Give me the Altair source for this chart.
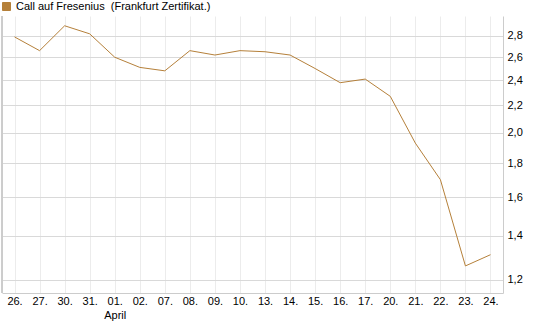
import altair as alt
import pandas as pd

dates = ["26.", "27.", "30.", "31.", "01.", "02.", "07.", "08.", "09.", "10.",
         "13.", "14.", "15.", "16.", "17.", "20.", "21.", "22.", "23.", "24."]
values = [2.79, 2.66, 2.90, 2.82, 2.60, 2.51, 2.48, 2.66, 2.62, 2.66,
          2.65, 2.62, 2.50, 2.38, 2.41, 2.27, 1.93, 1.70, 1.26, 1.31]
y_ticks = [1.2, 1.4, 1.6, 1.8, 2.0, 2.2, 2.4, 2.6, 2.8]
series_name = "Call auf Fresenius\u00a0\u00a0(Frankfurt Zertifikat.)"

df = pd.DataFrame({"date": dates, "value": values, "series": series_name})

W, H = 501, 277
FONT = "Liberation Sans"

line = alt.Chart(df).mark_line(strokeWidth=1).encode(
    x=alt.X("date:N", sort=dates, title=None,
            scale=alt.Scale(type="point", padding=0.5),
            axis=alt.Axis(labelAngle=0, ticks=False, labelPadding=2,
                          domain=True, domainColor="#cccccc",
                          grid=True, gridColor="#ececec",
                          labelExpr="datum.value == '01.' ? ['01.', 'April'] : datum.value",
                          labelLineHeight=14)),
    y=alt.Y("value:Q", title=None,
            scale=alt.Scale(type="log", domain=[1.147, 3.0], nice=False, zero=False),
            axis=alt.Axis(orient="right", values=y_ticks, ticks=False, labelPadding=4,
                          domain=True, domainColor="#cccccc",
                          grid=True, gridColor="#d9d9d9",
                          labelExpr="replace(format(datum.value, '.1f'), '.', ',')")),
    color=alt.Color("series:N", title=None,
                    scale=alt.Scale(range=["#b5803a"]),
                    legend=alt.Legend(orient="none", legendX=-1, legendY=-15,
                                      symbolType="square", symbolSize=64,
                                      symbolFillColor="#b5803a",
                                      symbolStrokeColor="#5a3e18",
                                      symbolStrokeWidth=1,
                                      labelFontSize=11, labelColor="#000000",
                                      labelFont=FONT, labelLimit=400,
                                      labelOffset=4)),
)

left_border = alt.Chart(df).mark_rule(color="#cccccc", strokeWidth=1).encode(
    x=alt.value(0), y=alt.value(0), y2=alt.value(H)
)

chart = alt.layer(line, left_border).properties(
    width=W, height=H,
    autosize=alt.AutoSizeParams(type="none"),
    padding={"left": 2, "top": 16, "right": 42, "bottom": 34},
).configure_view(stroke=None).configure_axis(
    labelFont=FONT, labelFontSize=11, labelColor="#000000"
)

chart.save("out.html", embed_options={"renderer": "svg", "actions": False})
